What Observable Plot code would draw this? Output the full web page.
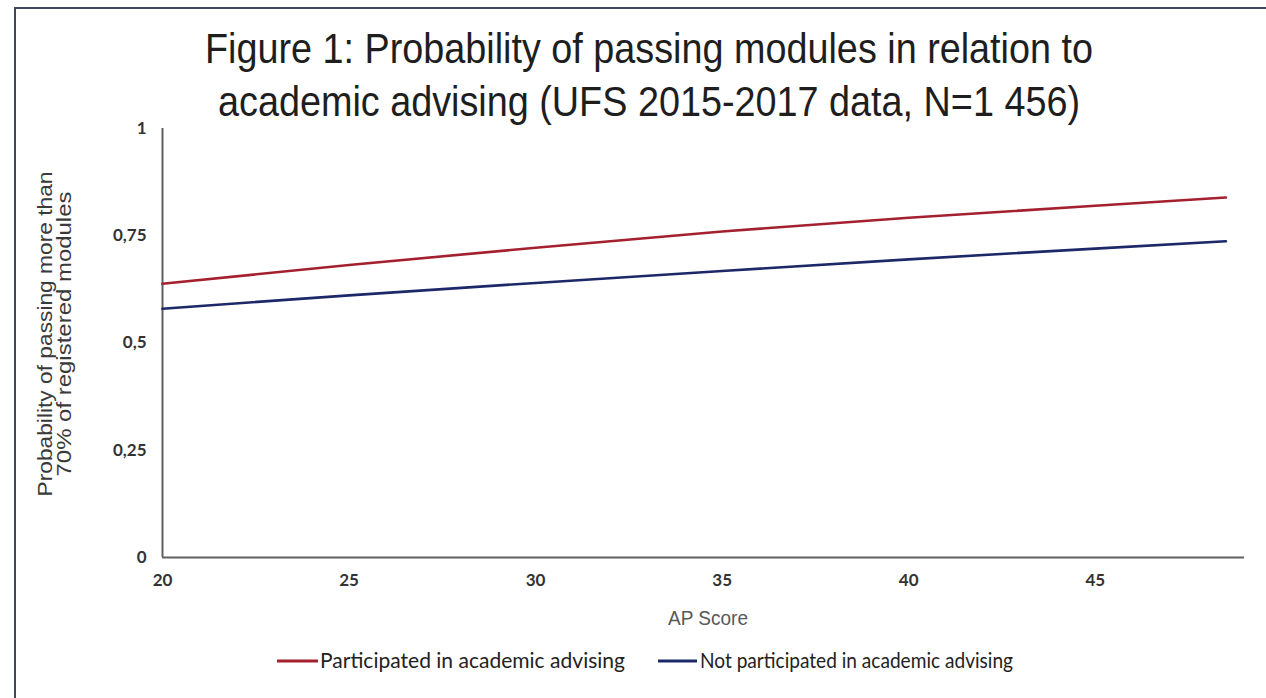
<!DOCTYPE html>
<html><head><meta charset="utf-8">
<script src="https://cdn.jsdelivr.net/npm/d3@7"></script>
<script src="https://cdn.jsdelivr.net/npm/@observablehq/plot@0.6"></script>
<style>
body{margin:0;background:#fff;}
#wrap{position:relative;width:1266px;height:698px;overflow:hidden;background:#fff;}
#frame{position:absolute;left:14px;top:7px;width:1320px;height:740px;border:2px solid #3d4759;box-sizing:border-box;}
#chart{position:absolute;left:0;top:0;}
#chart svg g[aria-label$="tick label"]{font-size:17px !important;font-weight:700 !important;font-family:Lato,'Open Sans',sans-serif !important;}
#chart svg g[aria-label$="tick label"] text{font-size:17px !important;}
#over{position:absolute;left:0;top:0;}
</style></head>
<body>
<div id="wrap">
  <div id="frame"></div>
  <div id="chart"></div>
  <svg id="over" width="1266" height="698"></svg>
</div>
<script>
// ---- data ----
const apScore = [20, 25, 30, 35, 40, 45, 48.5];
const participated = [0.638, 0.682, 0.722, 0.760, 0.792, 0.820, 0.839];
const notParticipated = [0.580, 0.611, 0.640, 0.668, 0.695, 0.720, 0.737];
const seriesNames = ["Participated in academic advising", "Not participated in academic advising"];
const seriesColors = ["#a4202f", "#1c2868"];
const xTicks = [20, 25, 30, 35, 40, 45];
const yTicks = [0, 0.25, 0.5, 0.75, 1];
const titleLines = ["Figure 1: Probability of passing modules in relation to", "academic advising (UFS 2015-2017 data, N=1 456)"];
const yLabelLines = ["Probability of passing more than", "70% of registered modules"];
const xLabel = "AP Score";

const rows = [];
apScore.forEach((x, i) => {
  rows.push({x, y: participated[i], s: seriesNames[0]});
  rows.push({x, y: notParticipated[i], s: seriesNames[1]});
});

const fmt = d => String(d).replace(".", ",");

const plot = Plot.plot({
  width: 1266, height: 698,
  marginLeft: 162, marginRight: 22, marginTop: 128, marginBottom: 141,
  x: {domain: [20, 49]},
  y: {domain: [0, 1]},
  color: {domain: seriesNames, range: seriesColors},
  style: {background: "transparent", color: "#333"},
  marks: [
    Plot.axisX({ticks: xTicks, tickSize: 0, tickPadding: 16, tickFormat: fmt, label: null, fill: "#333"}),
    Plot.axisY({ticks: yTicks, tickSize: 0, tickPadding: 16, tickFormat: fmt, label: null, fill: "#333"}),
    Plot.ruleX([20], {stroke: "#606060", strokeWidth: 2}),
    Plot.ruleY([0], {stroke: "#606060", strokeWidth: 2}),
    Plot.line(rows, {x: "x", y: "y", z: "s", stroke: "s", strokeWidth: 2.6})
  ]
});
document.getElementById("chart").appendChild(plot);

// ---- overlay texts ----
const ns = "http://www.w3.org/2000/svg";
const over = document.getElementById("over");
function txt(str, attrs) {
  const t = document.createElementNS(ns, "text");
  for (const k in attrs) t.setAttribute(k, attrs[k]);
  t.textContent = str;
  over.appendChild(t);
  return t;
}
function line(x1, y1, x2, y2, color) {
  const l = document.createElementNS(ns, "line");
  l.setAttribute("x1", x1); l.setAttribute("y1", y1);
  l.setAttribute("x2", x2); l.setAttribute("y2", y2);
  l.setAttribute("stroke", color); l.setAttribute("stroke-width", 3);
  over.appendChild(l);
}
const sans = "'Liberation Sans', Arial, sans-serif";
txt(titleLines[0], {x: 205, y: 63, "font-family": sans, "font-size": 43, fill: "#1e1e1e",
  textLength: 888, lengthAdjust: "spacingAndGlyphs"});
txt(titleLines[1], {x: 218, y: 116, "font-family": sans, "font-size": 43, fill: "#1e1e1e",
  textLength: 862, lengthAdjust: "spacingAndGlyphs"});

txt(yLabelLines[0], {transform: "translate(52,334) rotate(-90)", "text-anchor": "middle",
  "font-family": sans, "font-size": 21, fill: "#3a3a3a", textLength: 325, lengthAdjust: "spacingAndGlyphs"});
txt(yLabelLines[1], {transform: "translate(71,334) rotate(-90)", "text-anchor": "middle",
  "font-family": sans, "font-size": 21, fill: "#3a3a3a", textLength: 285, lengthAdjust: "spacingAndGlyphs"});

txt(xLabel, {x: 668, y: 625, "font-family": sans, "font-size": 20, fill: "#595959",
  textLength: 80, lengthAdjust: "spacingAndGlyphs"});

// legend
const legX = [[277, 318, 320, 305], [658, 697, 700, 313]];
seriesNames.forEach((n, i) => {
  const [a, b, tx, w] = legX[i];
  line(a, 661, b, 661, seriesColors[i]);
  txt(n, {x: tx, y: 668, "font-family": "Lato, 'Open Sans', sans-serif", "font-size": 21, fill: "#222",
    textLength: w, lengthAdjust: "spacingAndGlyphs"});
});
</script>
</body></html>
